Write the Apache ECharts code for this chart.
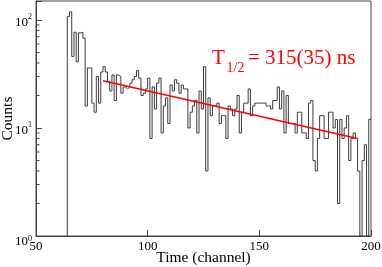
<!DOCTYPE html>
<html><head><meta charset="utf-8">
<script src="https://cdn.jsdelivr.net/npm/echarts@6/dist/echarts.min.js"></script>
<style>html,body{margin:0;padding:0;background:#fff}#c{width:382px;height:267px}</style>
</head><body><div id="c"></div>
<script>
// Histogram: counts per channel, first bin starts at channel 64
const firstChannel = 64;
const counts = [
  108,119,46,77,41,76,77,68,16,36,
  36,17,14,30,17,33,37,33,27,22,
  31,18,31,30,21,24,23,24,26,28,
  30,34,29,20,21,23,29,8,24,15,
  26,29,9,16,19,11,25,22,28,26,
  21,25,23,23,10,14,16,18,9,22,
  15,37,4,19,13,16,16,17,11,13,
  13,8,16,15,13,15,20,9,14,17,
  17,23,13,16,17,17,17,17,17,16,
  16,15,18,18,24,15,22,9,20,11,
  11,11,9,14,14,9,9,8,17,18,
  5,4,8,13,13,8,8,14,14,10,
  12,2,12,8,10,13,5,8,9,8,
  4,0,5,7,0,12
];
// Exponential fit (straight on log axis): endpoints
const fitX = [80, 194];
const fitY = [27.4, 8.0];
// Axis ranges / ticks
const xMin = 50, xMax = 200, xStep = 50;
const yMin = 1, yMax = 150;
const minorTickValues = [2,3,4,5,6,7,8,9,20,30,40,50,60,70,80,90];

const histData = [[firstChannel, yMin]];
counts.forEach((c, i) => histData.push([firstChannel + i, Math.max(c, yMin)]));
histData.push([firstChannel + counts.length, Math.max(counts[counts.length - 1], yMin)]);

const serif = 'Liberation Serif, Times New Roman, serif';
const chart = echarts.init(document.getElementById('c'), null, {renderer: 'canvas'});
chart.setOption({
  animation: false,
  grid: {left: 36, right: 11, top: 1, bottom: 31, containLabel: false, outerBoundsMode: 'none',
         show: true, borderColor: '#444', borderWidth: 1},
  xAxis: {
    type: 'value', min: xMin, max: xMax, interval: xStep,
    name: 'Time (channel)', nameLocation: 'middle', nameGap: 14, nameMoveOverlap: false,
    nameTextStyle: {fontFamily: serif, fontSize: 15.5, color: '#000'},
    axisLine: {lineStyle: {color: '#444'}},
    axisTick: {inside: true, length: 6, lineStyle: {color: '#444'}},
    axisLabel: {fontFamily: serif, fontSize: 13, color: '#000', margin: 4},
    splitLine: {show: false}
  },
  yAxis: {
    type: 'log', logBase: 10, min: yMin, max: yMax,
    name: 'Counts', nameLocation: 'middle', nameGap: 20, nameMoveOverlap: false,
    nameTextStyle: {fontFamily: serif, fontSize: 15.5, color: '#000'},
    axisLine: {show: true, lineStyle: {color: '#444'}},
    axisTick: {inside: true, length: 6, lineStyle: {color: '#444'}},
    axisLabel: {
      margin: 4,
      formatter: function (v) {
        const l = Math.log10(v), e = Math.round(l);
        if (Math.abs(l - e) > 1e-6) return '';
        if (e === 0) return '{b0|10}{s0|' + e + '}';
        return '{b|10}{s|' + e + '}';
      },
      rich: {
        b: {fontFamily: serif, fontSize: 13, color: '#000', lineHeight: 14, padding: [5, 0, 0, 0]},
        s: {fontFamily: serif, fontSize: 8, color: '#000', verticalAlign: 'top', lineHeight: 8, padding: [0, 0, 0, 0]},
        b0: {fontFamily: serif, fontSize: 13, color: '#000', lineHeight: 14, padding: [12, 0, 0, 0]},
        s0: {fontFamily: serif, fontSize: 8, color: '#000', verticalAlign: 'top', lineHeight: 8, padding: [6, 0, 0, 0]}
      }
    },
    splitLine: {show: false}
  },
  series: [
    {
      type: 'line', step: 'end', data: histData, symbol: 'none',
      lineStyle: {color: '#3c3c3c', width: 1}, z: 2
    },
    {
      type: 'line', data: fitX.map((x, i) => [x, fitY[i]]), symbol: 'none',
      lineStyle: {color: '#ff0000', width: 1.5}, z: 3
    },
    {
      type: 'custom', data: minorTickValues.map(v => [xMin, v]), silent: true, z: 4,
      renderItem: function (params, api) {
        const p = api.coord([api.value(0), api.value(1)]);
        return {type: 'line', shape: {x1: p[0], y1: p[1], x2: p[0] + 3.5, y2: p[1]},
                style: {stroke: '#444', lineWidth: 1}};
      }
    }
  ],
  graphic: [
    {type: 'text', left: 212, top: 47.5, style: {text: 'T', fontFamily: serif, fontSize: 21, fill: '#ff0000'}},
    {type: 'text', left: 226.5, top: 61, style: {text: '1/2', fontFamily: serif, fontSize: 14, fill: '#ff0000'}},
    {type: 'text', left: 248, top: 47.5, style: {text: '= 315(35) ns', fontFamily: serif, fontSize: 21, fill: '#ff0000'}}
  ]
});
</script></body></html>
